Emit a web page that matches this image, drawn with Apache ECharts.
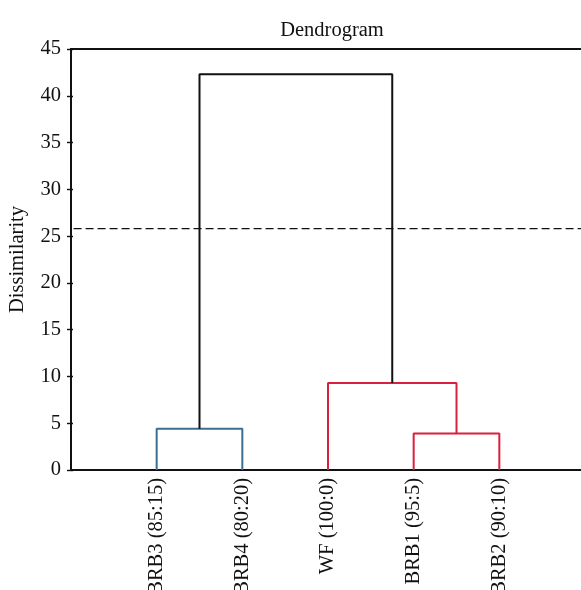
<!DOCTYPE html>
<html><head><meta charset="utf-8">
<script src="https://cdn.jsdelivr.net/npm/echarts@6/dist/echarts.min.js"></script>
<style>html,body{margin:0;padding:0;background:#fff}#c{width:581px;height:590px}</style>
</head><body><div id="c"></div>
<script>
const leaves = ['BRB3 (85:15)', 'BRB4 (80:20)', 'WF (100:0)', 'BRB1 (95:5)', 'BRB2 (90:10)'];
const yTicks = [0, 5, 10, 15, 20, 25, 30, 35, 40, 45];
// merges: [leftNode, rightNode, height, colour]; nodes 0-4 are leaves, 5+ are merges in order
const merges = [
  [0, 1, 4.4, '#3b6f8f'],
  [3, 4, 3.9, '#dc1f3e'],
  [2, 6, 9.3, '#dc1f3e'],
  [5, 7, 42.3, '#111111']
];
const cutHeight = 25.8;

const FONT = 'Liberation Serif';
const FS = 20.5;
const nodeX = leaves.map((_, i) => i + 1);
const nodeH = leaves.map(() => 0);
const series = [];
merges.forEach(([a, b, h, col]) => {
  series.push({
    type: 'line', symbol: 'none', silent: true,
    lineStyle: { color: col, width: 2 },
    data: [[nodeX[a], nodeH[a]], [nodeX[a], h], [nodeX[b], h], [nodeX[b], nodeH[b]]]
  });
  nodeX.push((nodeX[a] + nodeX[b]) / 2);
  nodeH.push(h);
});
series.push({
  type: 'line', symbol: 'none', silent: true,
  lineStyle: { color: '#111', width: 1.4, type: [8, 4] },
  data: [[0.03, cutHeight], [6, cutHeight]]
});

const chart = echarts.init(document.getElementById('c'));
chart.setOption({
  animation: false,
  title: { text: 'Dendrogram', left: 327, textAlign: 'center', top: 15,
    textStyle: { fontFamily: FONT, fontSize: FS, fontWeight: 'normal', color: '#111' } },
  grid: { left: 71, right: -4, top: 49, bottom: 120, show: true, borderColor: '#111', borderWidth: 2,
    containLabel: false, outerBoundsMode: 'none' },
  xAxis: {
    type: 'value', min: 0, max: 6, interval: 1,
    splitLine: { show: false },
    axisTick: { show: false },
    axisLine: { lineStyle: { color: '#111', width: 2 } },
    axisLabel: { rotate: 90, margin: 8, fontFamily: FONT, fontSize: FS, color: '#111',
      formatter: v => (v >= 1 && v <= leaves.length ? leaves[v - 1] : '') }
  },
  yAxis: [{
    type: 'value', min: 0, max: 45, interval: 5,
    name: 'Dissimilarity', nameLocation: 'middle', nameGap: 43,
    nameTextStyle: { fontFamily: FONT, fontSize: FS, color: '#111' },
    splitLine: { show: false },
    axisLine: { show: true, lineStyle: { color: '#111', width: 2 } },
    axisTick: { show: true, length: 4, lineStyle: { color: '#111', width: 1.4 } },
    axisLabel: { fontFamily: FONT, fontSize: FS, color: '#111', margin: 10,
      formatter: v => (yTicks.includes(v) ? String(v) : '') }
  }, {
    type: 'value', min: 0, max: 45, interval: 5, position: 'left',
    splitLine: { show: false },
    axisLine: { show: false },
    axisTick: { show: true, inside: true, length: 2, lineStyle: { color: '#111', width: 1.4 } },
    axisLabel: { show: false }
  }],
  series
});
</script></body></html>
